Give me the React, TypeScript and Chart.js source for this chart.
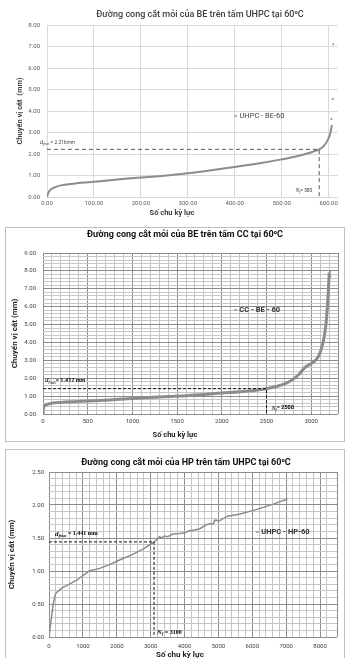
import React, { useEffect, useRef } from "react";
import { Chart, registerables } from "chart.js";

Chart.register(...registerables);

const SANS = "Roboto, 'Noto Sans', 'DejaVu Sans', sans-serif";
const SERIF = "'Liberation Serif', 'DejaVu Serif', serif";

// ---------------- Chart 1 : UHPC - BE - 60 ----------------
const be1Title = "Đường cong cắt mỏi của BE trên tấm UHPC tại 60⁰C";
const be1Legend = "UHPC - BE-60";
const be1Cycles = [0, 2, 5, 10, 20, 30, 45, 60, 80, 100, 150, 200, 250, 300, 350, 400, 450, 500, 530, 560, 580, 590, 597, 602, 605, 607];
const be1Disp = [0, 0.15, 0.28, 0.38, 0.48, 0.54, 0.59, 0.63, 0.67, 0.71, 0.81, 0.91, 0.99, 1.1, 1.24, 1.4, 1.56, 1.75, 1.88, 2.06, 2.216, 2.38, 2.6, 2.85, 3.1, 3.35];
const be1OutCycles = [606, 609, 610];
const be1OutDisp = [3.63, 4.56, 7.1];
const be1Nf = 580;
const be1Df = 2.216;

// ---------------- Chart 2 : CC - BE - 60 ----------------
const cc2Title = "Đường cong cắt mỏi của BE trên tấm CC tại 60⁰C";
const cc2Legend = "CC - BE - 60";
const cc2Cycles = [0, 5, 15, 40, 100, 200, 350, 500, 700, 1000, 1300, 1600, 2000, 2300, 2500, 2620, 2720, 2800, 2870, 2920, 2960, 3000, 3050, 3090, 3120, 3145, 3165, 3180, 3192, 3202];
const cc2Disp = [0, 0.32, 0.44, 0.52, 0.6, 0.65, 0.69, 0.72, 0.77, 0.87, 0.95, 1.02, 1.17, 1.29, 1.417, 1.55, 1.72, 1.95, 2.25, 2.55, 2.7, 2.82, 3.0, 3.3, 3.75, 4.3, 5.0, 5.9, 6.9, 7.9];
const cc2OutCycles = [3212, 3216];
const cc2OutDisp = [7.95, 7.7];
const cc2Nf = 2500;
const cc2Df = 1.417;

// ---------------- Chart 3 : UHPC - HP - 60 ----------------
const hp3Title = "Đường cong cắt mỏi của HP trên tấm UHPC tại 60⁰C";
const hp3Legend = "UHPC - HP-60";
const hp3Cycles = [0, 60, 127, 197, 373, 600, 814, 1000, 1186, 1500, 1800, 2100, 2500, 2800, 3100, 3200, 3260, 3330, 3400, 3500, 3660, 3850, 4000, 4150, 4300, 4450, 4640, 4780, 4850, 4890, 5030, 5270, 5620, 6110, 6600, 7040];
const hp3Disp = [0, 0.25, 0.51, 0.66, 0.74, 0.8, 0.86, 0.93, 1.0, 1.04, 1.1, 1.17, 1.26, 1.34, 1.441, 1.48, 1.52, 1.5, 1.53, 1.52, 1.56, 1.57, 1.58, 1.61, 1.62, 1.64, 1.7, 1.72, 1.71, 1.77, 1.76, 1.83, 1.86, 1.93, 2.01, 2.09];
const hp3Nf = 3100;
const hp3Df = 1.441;

const yAxisTitle1 = "Chuyển vị cắt  (mm)";
const yAxisTitle = "Chuyển vị cắt (mm)";
const xAxisTitle = "Số chu kỳ lực";

type Run = { t: string; f: string; c?: string; dy?: number };

function drawRich(ctx: CanvasRenderingContext2D, x: number, y: number, runs: Run[], align: "left" | "right") {
  let w = 0;
  for (const r of runs) {
    ctx.font = r.f;
    w += ctx.measureText(r.t).width;
  }
  let cx = align === "right" ? x - w : x;
  ctx.textAlign = "left";
  ctx.textBaseline = "middle";
  for (const r of runs) {
    ctx.font = r.f;
    ctx.fillStyle = r.c || "#000";
    ctx.fillText(r.t, cx, y + (r.dy || 0));
    cx += ctx.measureText(r.t).width;
  }
}

interface TextSpec {
  title: { text: string; x: number; y: number; font: string; color: string };
  xTitle: { text: string; x: number; y: number; font: string; color: string };
  legend: { text: string; at: [number, number]; font: string; color: string; mark: string };
  df: { value: number; runs: Run[]; dx: number; dy: number };
  nf: { value: number; runs: Run[]; dx: number; dy: number; align: "left" | "right" };
}

function textPlugin(s: TextSpec) {
  return {
    id: "texts",
    afterDatasetsDraw(chart: any) {
      const ctx: CanvasRenderingContext2D = chart.ctx;
      const xs = chart.scales.x;
      const ys = chart.scales.y;
      ctx.save();
      ctx.textAlign = "center";
      ctx.textBaseline = "middle";
      ctx.font = s.title.font;
      ctx.fillStyle = s.title.color;
      ctx.fillText(s.title.text, s.title.x, s.title.y);
      ctx.font = s.xTitle.font;
      ctx.fillStyle = s.xTitle.color;
      ctx.fillText(s.xTitle.text, s.xTitle.x, s.xTitle.y);
      // legend
      const lx = xs.getPixelForValue(s.legend.at[0]);
      const ly = ys.getPixelForValue(s.legend.at[1]);
      ctx.fillStyle = s.legend.mark;
      ctx.fillRect(lx - 5, ly - 0.6, 2.5, 1.3);
      ctx.font = s.legend.font;
      ctx.fillStyle = s.legend.color;
      ctx.textAlign = "left";
      ctx.fillText(s.legend.text, lx, ly);
      // d_f max label
      drawRich(ctx, xs.getPixelForValue(0) + s.df.dx, ys.getPixelForValue(s.df.value) + s.df.dy, s.df.runs, "left");
      // N_f label
      drawRich(ctx, xs.getPixelForValue(s.nf.value) + s.nf.dx, ys.getPixelForValue(0) + s.nf.dy, s.nf.runs, s.nf.align);
      ctx.restore();
    },
  };
}

interface AxisOpt {
  axis: "x" | "y";
  min: number;
  max: number;
  step: number;
  major: number;
  fmt: (v: number) => string;
  tickPad: number;
  tickColor: string;
  tickSize: number;
  majorColor: string;
  minorColor: string;
  size: number;
  includeBounds?: boolean;
  title?: { text: string; padTop: number; size: number; color: string };
}

function linAxis(o: AxisOpt) {
  const isMajor = (v: number) => Math.abs(v / o.major - Math.round(v / o.major)) < 1e-6;
  return {
    type: "linear",
    min: o.min,
    max: o.max,
    ticks: {
      stepSize: o.step,
      autoSkip: false,
      maxRotation: 0,
      includeBounds: o.includeBounds === undefined ? true : o.includeBounds,
      padding: o.tickPad,
      color: o.tickColor,
      font: { family: SANS, size: o.tickSize },
      callback: (v: number) => (isMajor(v) ? o.fmt(v) : ""),
    },
    grid: {
      drawTicks: false,
      lineWidth: 1,
      color: (c: any) =>
        c.tick && (isMajor(c.tick.value) || Math.abs(c.tick.value - o.max) < 1e-9) ? o.majorColor : o.minorColor,
    },
    border: { display: false },
    afterFit: (sc: any) => {
      if (o.axis === "x") sc.height = o.size;
      else sc.width = o.size;
    },
    title: o.title
      ? {
          display: true,
          text: o.title.text,
          color: o.title.color,
          font: { family: SANS, size: o.title.size, weight: "bold" },
          padding: { top: o.title.padTop, bottom: 0 },
        }
      : { display: false },
  };
}

const pts = (xs: number[], ys: number[]) => xs.map((x, i) => ({ x, y: ys[i] }));

function buildBe1(): any {
  const lineColor = "#8c8c8c";
  return {
    type: "line",
    data: {
      datasets: [
        { data: pts([0, be1Nf, be1Nf], [be1Df, be1Df, 0]), borderColor: "#595959", borderWidth: 1, borderDash: [4, 3], pointRadius: 0 },
        { data: pts(be1Cycles, be1Disp), borderColor: lineColor, borderWidth: 2, pointRadius: 0, cubicInterpolationMode: "monotone" },
        { data: pts(be1OutCycles, be1OutDisp), showLine: false, pointRadius: 1, pointBackgroundColor: lineColor, pointBorderWidth: 0 },
      ],
    },
    options: {
      animation: false,
      responsive: false,
      events: [],
      layout: { padding: { left: 0, right: 11, top: 25, bottom: 0 } },
      scales: {
        x: linAxis({ axis: "x", min: 0, max: 620, step: 100, major: 100, includeBounds: false, fmt: (v) => v.toFixed(2), tickPad: 3, tickColor: "#595959", tickSize: 6, majorColor: "#d9d9d9", minorColor: "#d9d9d9", size: 25 }),
        y: linAxis({ axis: "y", min: 0, max: 8, step: 1, major: 1, fmt: (v) => v.toFixed(2), tickPad: 7, tickColor: "#595959", tickSize: 6, majorColor: "#d9d9d9", minorColor: "#d9d9d9", size: 47, title: { text: yAxisTitle1, padTop: 16, size: 7.5, color: "#404040" } }),
      },
      plugins: { legend: { display: false }, tooltip: { enabled: false } },
    },
    plugins: [
      textPlugin({
        title: { text: be1Title, x: 200, y: 15, font: `500 9px ${SANS}`, color: "#404040" },
        xTitle: { text: xAxisTitle, x: 172, y: 213, font: `bold 7.5px ${SANS}`, color: "#404040" },
        legend: { text: be1Legend, at: [410, 3.77], font: `7.5px ${SANS}`, color: "#404040", mark: lineColor },
        df: {
          value: be1Df,
          dx: -7,
          dy: -7,
          runs: [
            { t: "d", f: `italic 6px ${SERIF}`, c: "#404040" },
            { t: "f", f: `italic 4.5px ${SERIF}`, c: "#404040", dy: 1.3 },
            { t: "max", f: `3px ${SERIF}`, c: "#404040", dy: 2.2 },
            { t: " = " + be1Df.toFixed(3) + "mm", f: `4.8px ${SANS}`, c: "#404040" },
          ],
        },
        nf: {
          value: be1Nf,
          dx: -7,
          dy: -6,
          align: "right",
          runs: [
            { t: "N", f: `italic 5.5px ${SERIF}`, c: "#404040" },
            { t: "f", f: `italic 4px ${SERIF}`, c: "#404040", dy: 1.3 },
            { t: "= " + be1Nf, f: `4.8px ${SANS}`, c: "#404040" },
          ],
        },
      }),
    ],
  };
}

function buildCc2(): any {
  const lineColor = "#8c8c8c";
  return {
    type: "line",
    data: {
      datasets: [
        { data: pts([0, cc2Nf, cc2Nf], [cc2Df, cc2Df, 0]), borderColor: "#111", borderWidth: 1, borderDash: [3, 2], pointRadius: 0 },
        { data: pts(cc2Cycles, cc2Disp), borderColor: lineColor, borderWidth: 3, pointRadius: 0, cubicInterpolationMode: "monotone" },
        { data: pts(cc2OutCycles, cc2OutDisp), showLine: false, pointRadius: 1, pointBackgroundColor: lineColor, pointBorderWidth: 0 },
      ],
    },
    options: {
      animation: false,
      responsive: false,
      events: [],
      layout: { padding: { left: 0, right: 6, top: 25, bottom: 0 } },
      scales: {
        x: linAxis({ axis: "x", min: 0, max: 3300, step: 100, major: 500, fmt: (v) => String(v), tickPad: 4, tickColor: "#404040", tickSize: 6, majorColor: "#8c8c8c", minorColor: "#c6c6c6", size: 27 }),
        y: linAxis({ axis: "y", min: 0, max: 9, step: 0.2, major: 1, fmt: (v) => v.toFixed(2), tickPad: 7, tickColor: "#404040", tickSize: 6, majorColor: "#8c8c8c", minorColor: "#c6c6c6", size: 37, title: { text: yAxisTitle, padTop: 4, size: 8, color: "#222" } }),
      },
      plugins: { legend: { display: false }, tooltip: { enabled: false } },
    },
    plugins: [
      textPlugin({
        title: { text: cc2Title, x: 179, y: 7, font: `bold 9px ${SANS}`, color: "#111" },
        xTitle: { text: xAxisTitle, x: 169, y: 207, font: `bold 7.5px ${SANS}`, color: "#222" },
        legend: { text: cc2Legend, at: [2196, 5.83], font: `bold 7.5px ${SANS}`, color: "#333", mark: lineColor },
        df: {
          value: cc2Df,
          dx: 2,
          dy: -8.5,
          runs: [
            { t: "d", f: `italic 7px ${SERIF}` },
            { t: "f", f: `italic 5px ${SERIF}`, dy: 1.5 },
            { t: "max", f: `italic 3.5px ${SERIF}`, dy: 2.5 },
            { t: "= " + cc2Df.toFixed(3) + " mm", f: `bold 5.5px ${SANS}` },
          ],
        },
        nf: {
          value: cc2Nf,
          dx: 5,
          dy: -6,
          align: "left",
          runs: [
            { t: "N", f: `italic 6px ${SERIF}` },
            { t: "f", f: `italic 4.5px ${SERIF}`, dy: 1.4 },
            { t: "= " + cc2Nf, f: `bold 5.5px ${SANS}` },
          ],
        },
      }),
    ],
  };
}

function buildHp3(): any {
  const lineColor = "#8c8c8c";
  return {
    type: "line",
    data: {
      datasets: [
        { data: pts([0, hp3Nf, hp3Nf], [hp3Df, hp3Df, 0]), borderColor: "#111", borderWidth: 1, borderDash: [3, 2], pointRadius: 0 },
        { data: pts(hp3Cycles, hp3Disp), borderColor: lineColor, borderWidth: 1.5, pointRadius: 0, tension: 0 },
      ],
    },
    options: {
      animation: false,
      responsive: false,
      events: [],
      layout: { padding: { left: 0, right: 7, top: 22, bottom: 0 } },
      scales: {
        x: linAxis({ axis: "x", min: 0, max: 8500, step: 200, major: 1000, fmt: (v) => String(v), tickPad: 6, tickColor: "#404040", tickSize: 6, majorColor: "#8c8c8c", minorColor: "#c6c6c6", size: 25 }),
        y: linAxis({ axis: "y", min: 0, max: 2.5, step: 0.1, major: 0.5, fmt: (v) => v.toFixed(2), tickPad: 5, tickColor: "#404040", tickSize: 6, majorColor: "#8c8c8c", minorColor: "#c6c6c6", size: 43, title: { text: yAxisTitle, padTop: 1, size: 8, color: "#222" } }),
      },
      plugins: { legend: { display: false }, tooltip: { enabled: false } },
    },
    plugins: [
      textPlugin({
        title: { text: hp3Title, x: 180, y: 13, font: `bold 9px ${SANS}`, color: "#111" },
        xTitle: { text: xAxisTitle, x: 174, y: 205, font: `bold 8px ${SANS}`, color: "#222" },
        legend: { text: hp3Legend, at: [6265, 1.59], font: `bold 7.5px ${SANS}`, color: "#333", mark: lineColor },
        df: {
          value: hp3Df,
          dx: 6,
          dy: -8,
          runs: [
            { t: "d", f: `italic bold 7px ${SERIF}` },
            { t: "f", f: `italic bold 5px ${SERIF}`, dy: 1.5 },
            { t: "max", f: `italic bold 3.5px ${SERIF}`, dy: 2.5 },
            { t: " = " + hp3Df.toFixed(3) + " mm", f: `bold 6px ${SERIF}` },
          ],
        },
        nf: {
          value: hp3Nf,
          dx: 3,
          dy: -5,
          align: "left",
          runs: [
            { t: "N", f: `italic bold 6.5px ${SERIF}` },
            { t: "f", f: `italic bold 4.5px ${SERIF}`, dy: 1.4 },
            { t: " = " + hp3Nf, f: `bold 6px ${SERIF}` },
          ],
        },
      }),
    ],
  };
}

function ChartCanvas({ width, height, build }: { width: number; height: number; build: () => any }) {
  const ref = useRef<HTMLCanvasElement>(null);
  useEffect(() => {
    const chart = new Chart(ref.current as HTMLCanvasElement, build());
    return () => chart.destroy();
  }, []);
  return <canvas ref={ref} width={width} height={height} style={{ display: "block", width, height }} />;
}

export default function App() {
  return (
    <div style={{ position: "fixed", left: 0, top: 0, width: 349, height: 658, overflow: "hidden", background: "#fff" }}>
      <div style={{ position: "absolute", left: 0, top: 0, width: 349, height: 222 }}>
        <ChartCanvas width={349} height={222} build={buildBe1} />
      </div>
      <div style={{ position: "absolute", left: 5, top: 227, width: 340, height: 215, border: "1px solid #bfbfbf", boxSizing: "border-box" }}>
        <ChartCanvas width={338} height={213} build={buildCc2} />
      </div>
      <div style={{ position: "absolute", left: 5, top: 449, width: 340, height: 214, border: "1px solid #bfbfbf", boxSizing: "border-box" }}>
        <ChartCanvas width={338} height={212} build={buildHp3} />
      </div>
    </div>
  );
}
